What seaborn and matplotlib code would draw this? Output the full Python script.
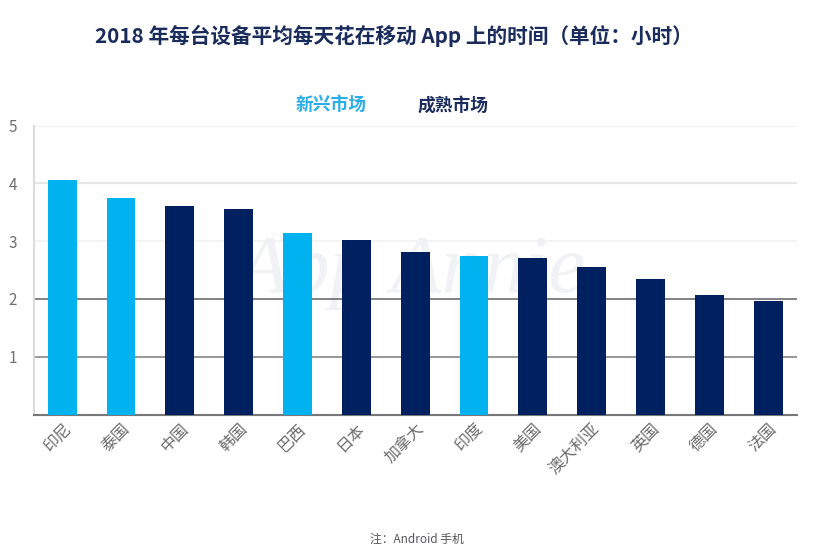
import seaborn as sns
import matplotlib.pyplot as plt
import pandas as pd

countries = ["印尼", "泰国", "中国", "韩国", "巴西", "日本", "加拿大", "印度", "美国", "澳大利亚", "英国", "德国", "法国"]
hours = [4.06, 3.75, 3.61, 3.56, 3.14, 3.02, 2.82, 2.74, 2.71, 2.55, 2.35, 2.07, 1.97]
markets = ["新兴市场", "新兴市场", "成熟市场", "成熟市场", "新兴市场", "成熟市场", "成熟市场",
           "新兴市场", "成熟市场", "成熟市场", "成熟市场", "成熟市场", "成熟市场"]
yticks = [1, 2, 3, 4, 5]

LIGHT = "#00b2f0"
NAVY = "#012060"

sns.set_theme(style="white")
plt.rcParams["font.family"] = ["Noto Sans CJK SC", "DejaVu Sans"]

df = pd.DataFrame({"country": countries, "hours": hours, "market": markets})

W, H = 820, 557
fig = plt.figure(figsize=(W / 100, H / 100), dpi=100)
ax = fig.add_axes([33.5 / W, (H - 414.5) / H, 763.5 / W, 289 / H])
ax.set_zorder(1)
ax.patch.set_alpha(0)

sns.barplot(
    data=df,
    x="country",
    y="hours",
    hue="market",
    order=countries,
    palette={"新兴市场": LIGHT, "成熟市场": NAVY},
    dodge=False,
    width=0.49,
    saturation=1,
    legend=False,
    linewidth=0,
    zorder=3,
    ax=ax,
)

ax.set_xlim(-0.487, 12.49)
ax.set_ylim(0, 5)
ax.set_xlabel("")
ax.set_ylabel("")

# gridlines get darker towards the bottom in the original
for y, color, lw in zip(yticks, ["#8f8f92", "#77777a", "#f1f1f3", "#e6e6e8", "#ececee"], [1.3, 1.3, 1.2, 1.5, 1.2]):
    ax.axhline(y, color=color, linewidth=lw, zorder=1)

ax.set_yticks(yticks)
ax.set_yticklabels([str(y) for y in yticks])
ax.tick_params(axis="y", length=0, pad=12, labelsize=11, labelcolor="#6f6f72")
ax.tick_params(axis="x", length=0, pad=4, labelsize=11.5, labelcolor="#6a6a6c")
plt.setp(ax.get_xticklabels(), rotation=45, ha="right", rotation_mode="anchor")

for side in ["top", "right"]:
    ax.spines[side].set_visible(False)
ax.spines["left"].set_color("#dcdcde")
ax.spines["left"].set_linewidth(1.5)
ax.spines["bottom"].set_color("#77777a")
ax.spines["bottom"].set_linewidth(1.5)

# watermark sits behind the axes
fig.text(412 / W, (H - 272) / H, "App Annie", fontsize=60, style="italic", family="Liberation Serif",
         color="#f1f2f6", ha="center", va="center", zorder=0)

fig.text(394 / W, (H - 36) / H, "2018 年每台设备平均每天花在移动 App 上的时间（单位：小时）",
         fontsize=14.9, fontweight="bold", color="#1a2c5c", ha="center", va="center")
fig.text(331 / W, (H - 105.5) / H, "新兴市场", fontsize=12.8, fontweight="bold", color="#29aee8", ha="center", va="center")
fig.text(453 / W, (H - 105.5) / H, "成熟市场", fontsize=12.8, fontweight="bold", color="#1a2c5c", ha="center", va="center")
fig.text(417 / W, (H - 539) / H, "注：Android 手机", fontsize=8.5, color="#55555a", ha="center", va="center")

fig.savefig("out.png", dpi=100)
plt.close(fig)
